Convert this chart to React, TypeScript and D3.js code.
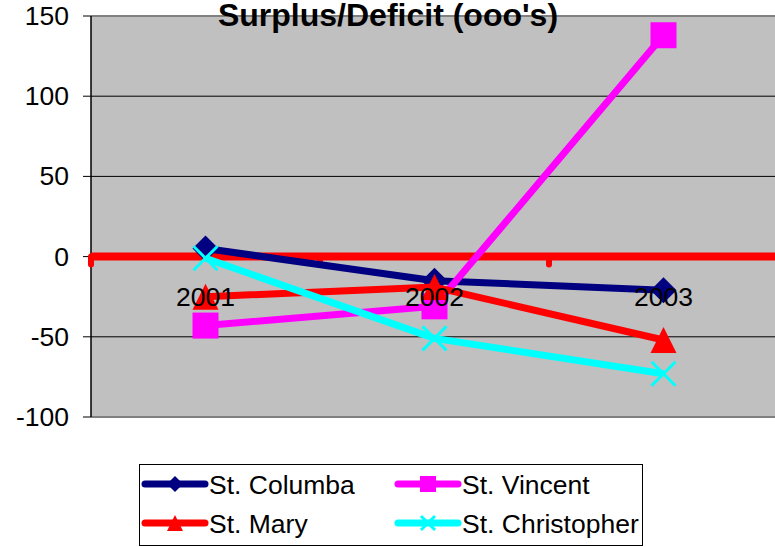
import React from "react";
import * as d3 from "d3";

const categories = ["2001", "2002", "2003"];
const yTicks = [-100, -50, 0, 50, 100, 150];
const seriesNames = ["St. Columba", "St. Vincent", "St. Mary", "St. Christopher"];
const columba = [5, -15, -21];
const vincent = [-43, -31, 138];
const mary = [-25, -19, -52];
const christopher = [-1, -51, -73];
const title = "Surplus/Deficit (ooo's)";

const colors = ["#000080", "#FF00FF", "#FF0000", "#00FFFF"];
const shapes = ["diamond", "square", "triangle", "x"];
const allValues = [columba, vincent, mary, christopher];

const W = 775;
const H = 547;
const font = "Arial, 'Liberation Sans', sans-serif";

function Marker({ shape, x, y, size, color }: { shape: string; x: number; y: number; size: number; color: string }) {
  const s = size / 2;
  if (shape === "diamond") {
    return <polygon points={`${x},${y - s} ${x + s},${y} ${x},${y + s} ${x - s},${y}`} fill={color} />;
  }
  if (shape === "square") {
    return <rect x={x - s} y={y - s} width={size} height={size} fill={color} />;
  }
  if (shape === "triangle") {
    return <polygon points={`${x},${y - s} ${x + s},${y + s} ${x - s},${y + s}`} fill={color} />;
  }
  return (
    <g stroke={color} strokeWidth={3}>
      <line x1={x - s} y1={y - s} x2={x + s} y2={y + s} />
      <line x1={x - s} y1={y + s} x2={x + s} y2={y - s} />
    </g>
  );
}

export default function App() {
  const left = 91;
  const right = 778;
  const top = 16;
  const bottom = 417;
  const x = d3.scaleBand<string>().domain(categories).range([left, right]).paddingInner(0).paddingOuter(0);
  const y = d3.scaleLinear().domain([-100, 150]).range([bottom, top]);
  const cx = (c: string) => (x(c) as number) + x.bandwidth() / 2;
  const line = d3
    .line<number>()
    .x((_, i) => cx(categories[i]))
    .y((d) => y(d));

  const catTicks = [...categories.map((c) => x(c) as number), right];

  const legendItems = seriesNames.map((name, i) => {
    const col = i % 2;
    const row = Math.floor(i / 2);
    const lx = col === 0 ? 145 : 398;
    const ly = row === 0 ? 484 : 523;
    return { name, i, lx, ly };
  });

  return (
    <div style={{ position: "absolute", left: 0, top: 0 }}>
      <svg width={W} height={H} style={{ display: "block", background: "#fff" }}>
        <rect x={left} y={top} width={right - left} height={bottom - top} fill="#C0C0C0" />
        {yTicks
          .filter((t) => t !== -100 && t !== 150 && t !== 0)
          .map((t) => (
            <line key={t} x1={left} x2={right} y1={y(t)} y2={y(t)} stroke="#000" strokeWidth={1} />
          ))}
        <line x1={left} x2={right} y1={top} y2={top} stroke="#808080" strokeWidth={2} />
        <line x1={left} x2={right} y1={bottom} y2={bottom} stroke="#808080" strokeWidth={2} />
        {/* value axis */}
        <line x1={left} x2={left} y1={top} y2={bottom} stroke="#000" strokeWidth={1.5} />
        {yTicks.map((t) => (
          <g key={t}>
            <line x1={left - 8} x2={left} y1={y(t)} y2={y(t)} stroke="#000" strokeWidth={1} />
            <text x={69} y={y(t) + 9} textAnchor="end" fontFamily={font} fontSize={26.5} fill="#000">
              {t}
            </text>
          </g>
        ))}
        {/* category axis (red, thick) */}
        <line x1={left} x2={right} y1={y(0)} y2={y(0)} stroke="#FF0000" strokeWidth={8} />
        {catTicks.map((t, i) => (
          <line key={i} x1={t} x2={t} y1={y(0)} y2={y(0) + 8} stroke="#FF0000" strokeWidth={6} strokeLinecap="round" />
        ))}
        {/* series */}
        {allValues.map((vals, si) => (
          <g key={si}>
            <path d={line(vals) as string} fill="none" stroke={colors[si]} strokeWidth={7} strokeLinejoin="round" />
            {vals.map((v, i) => (
              <Marker key={i} shape={shapes[si]} x={cx(categories[i])} y={y(v)} size={shapes[si] === "x" ? 24 : 26} color={colors[si]} />
            ))}
          </g>
        ))}
        {/* category labels */}
        {categories.map((c) => (
          <text key={c} x={cx(c)} y={306} textAnchor="middle" fontFamily={font} fontSize={26.5} fill="#000">
            {c}
          </text>
        ))}
        {/* title */}
        <text x={388} y={26} textAnchor="middle" fontFamily={font} fontSize={32} fontWeight="bold" fill="#000">
          {title}
        </text>
        {/* legend */}
        <rect x={139.5} y={464.5} width={503} height={81} fill="#fff" stroke="#000" strokeWidth={1} />
        {legendItems.map(({ name, i, lx, ly }) => (
          <g key={name}>
            <line x1={lx} x2={lx + 60} y1={ly} y2={ly} stroke={colors[i]} strokeWidth={7} strokeLinecap="round" />
            <Marker shape={shapes[i]} x={lx + 30} y={ly} size={shapes[i] === "x" ? 14 : 16} color={colors[i]} />
            <text x={lx + 64} y={ly + 10} fontFamily={font} fontSize={26.5} fill="#000">
              {name}
            </text>
          </g>
        ))}
      </svg>
    </div>
  );
}
